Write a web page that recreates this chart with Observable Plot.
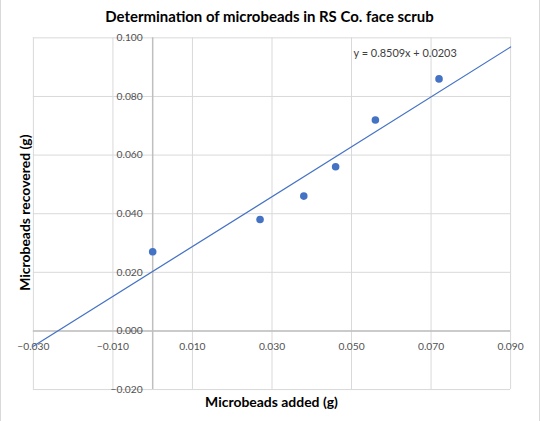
<!DOCTYPE html>
<html>
<head>
<meta charset="utf-8">
<script src="https://cdn.jsdelivr.net/npm/d3@7"></script>
<script src="https://cdn.jsdelivr.net/npm/@observablehq/plot@0.6"></script>
<style>
  html, body { margin: 0; padding: 0; background: #fff; }
  #chart { width: 538px; height: 421px; border-left: 1px solid #d9d9d9; border-right: 1px solid #d9d9d9; position: relative; }
  #chart svg { position: absolute; left: -1px; top: 0; }
</style>
</head>
<body>
<div id="chart"></div>
<script>
// Data
const added = [0, 0.027, 0.038, 0.046, 0.056, 0.072];
const recovered = [0.027, 0.038, 0.046, 0.056, 0.072, 0.086];
const slope = 0.8509;
const intercept = 0.0203;
const trendRange = [-0.03, 0.09];
const xTicks = [-0.03, -0.01, 0.01, 0.03, 0.05, 0.07, 0.09];
const yTicks = [-0.02, 0, 0.02, 0.04, 0.06, 0.08, 0.1];
const title = "Determination of microbeads in RS Co. face scrub";
const xLabel = "Microbeads added (g)";
const yLabel = "Microbeads recovered (g)";
const equation = "y = 0.8509x + 0.0203";

const points = added.map((x, i) => ({x, y: recovered[i]}));
const trend = trendRange.map(x => ({x, y: slope * x + intercept}));
const fmt = d3.format(".3f");
const blue = "#4472C4";
const font = "Lato, 'Open Sans', sans-serif";

const chart = Plot.plot({
  width: 540,
  height: 421,
  marginLeft: 33,
  marginRight: 28,
  marginTop: 37.5,
  marginBottom: 30.5,
  style: {fontFamily: font, background: "transparent", overflow: "visible"},
  x: {domain: [-0.03, 0.09], axis: null},
  y: {domain: [-0.02, 0.1], axis: null},
  marks: [
    Plot.gridX(xTicks, {stroke: "#d9d9d9", strokeOpacity: 1, strokeWidth: 1}),
    Plot.gridY(yTicks, {stroke: "#d9d9d9", strokeOpacity: 1, strokeWidth: 1}),
    Plot.ruleX([0], {stroke: "#bfbfbf", strokeWidth: 1.5}),
    Plot.ruleY([0], {stroke: "#bfbfbf", strokeWidth: 1.5}),
    Plot.text(yTicks, {x: 0, y: d => d, text: d => fmt(d), textAnchor: "end", dx: -10, fill: "#505050", fontSize: 10.3}),
    Plot.text(xTicks, {x: d => d, y: 0, text: d => fmt(d), dy: 15.5, fill: "#505050", fontSize: 10.3}),
    Plot.line(trend, {x: "x", y: "y", stroke: blue, strokeWidth: 1.25}),
    Plot.dot(points, {x: "x", y: "y", r: 3.8, fill: blue, stroke: "none"}),
    Plot.text([equation], {frameAnchor: "top-right", text: d => d, dx: -54, dy: 15.8, textAnchor: "end", lineAnchor: "middle", fill: "#404040", fontSize: 11}),
    Plot.text([title], {frameAnchor: "top", text: d => d, dy: -20.5, dx: -2.5, textAnchor: "middle", lineAnchor: "middle", fontSize: 15, fontWeight: "bold", fill: "#000"}),
    Plot.text([xLabel], {frameAnchor: "bottom", text: d => d, dy: 13.5, dx: -0.5, textAnchor: "middle", lineAnchor: "middle", fontSize: 14, fontWeight: "bold", fill: "#000"}),
    Plot.text([yLabel], {frameAnchor: "left", text: d => d, dx: -8, dy: -1, rotate: -90, textAnchor: "middle", lineAnchor: "middle", fontSize: 14, fontWeight: "bold", fill: "#000"})
  ]
});
document.getElementById("chart").appendChild(chart);
</script>
</body>
</html>
